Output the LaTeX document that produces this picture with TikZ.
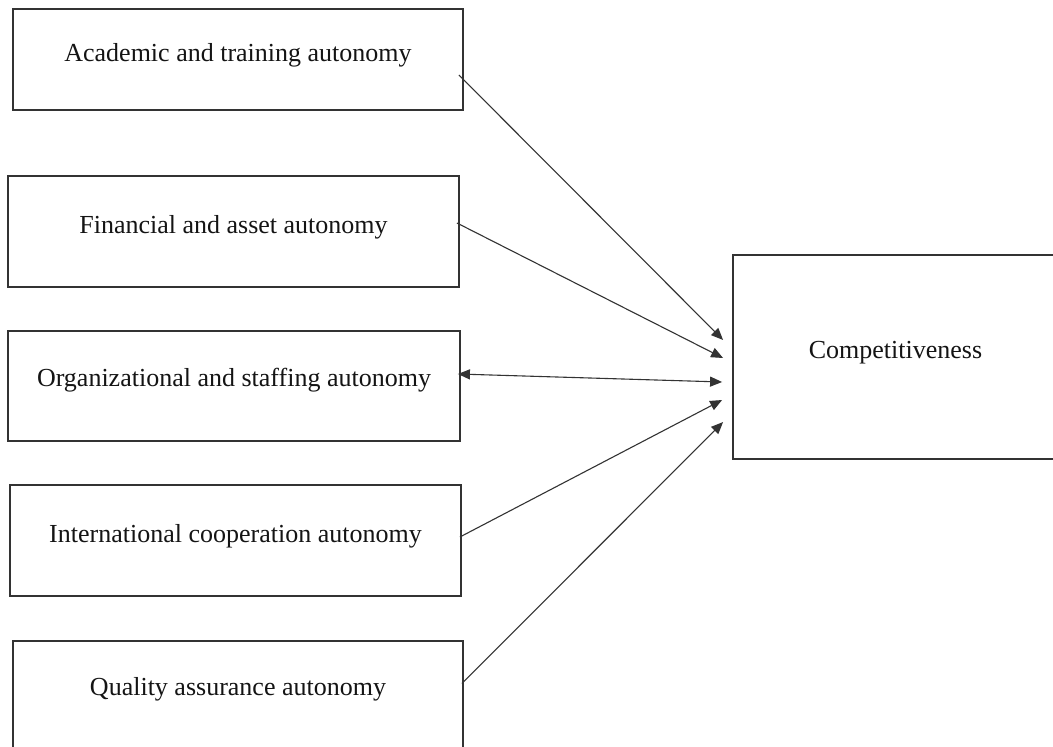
\documentclass[tikz,border=0pt]{standalone}
\usepackage{fontspec}
\setmainfont{Liberation Serif}
\usetikzlibrary{arrows.meta}
\begin{document}
\begin{tikzpicture}[x=1pt,y=-1pt,
  box/.style={draw=black!80, line width=1.8pt, rectangle, inner sep=0pt},
  lbl/.style={font=\fontsize{26}{30}\selectfont, text=black!92, inner sep=0pt},
  arr/.style={draw=black!80, line width=1.1pt, -{Triangle[length=12pt,width=10pt]}},
  barr/.style={draw=black!80, line width=1.1pt, {Triangle[length=12pt,width=10pt]}-{Triangle[length=12pt,width=10pt]}}]
\useasboundingbox (0,0) rectangle (1053,747);
\fill[white] (0,0) rectangle (1053,747);
% boxes
\node[box, minimum width=450pt, minimum height=101pt] (a) at (238,59.5) {};
\node[box, minimum width=451pt, minimum height=111pt] (b) at (233.5,231.5) {};
\node[box, minimum width=452pt, minimum height=110pt] (c) at (234,386) {};
\node[box, minimum width=451pt, minimum height=111pt] (d) at (235.5,540.5) {};
\node[box, minimum width=450pt, minimum height=109pt] (e) at (238,695.5) {};
\node[box, minimum width=325pt, minimum height=204pt] (comp) at (895.5,357) {};
% labels
\node[lbl] (la) at ([yshift=4pt]a.center) {Academic and training autonomy};
\node[lbl] (lb) at ([yshift=4pt]b.center) {Financial and asset autonomy};
\node[lbl] (lc) at ([yshift=6pt]c.center) {Organizational and staffing autonomy};
\node[lbl] (ld) at ([yshift=4pt]d.center) {International cooperation autonomy};
\node[lbl] (le) at ([yshift=6pt]e.center) {Quality assurance autonomy};
\node[lbl] (lcomp) at ([yshift=4pt]comp.center) {Competitiveness};
% arrow targets
\coordinate (t1) at ([xshift=-9pt,yshift=17pt]comp.west);
\coordinate (t2) at ([xshift=-9pt,yshift=-1pt]comp.west);
\coordinate (t3) at ([xshift=-10pt,yshift=-25pt]comp.west);
\coordinate (t4) at ([xshift=-10pt,yshift=-43pt]comp.west);
\coordinate (t5) at ([xshift=-9pt,yshift=-65pt]comp.west);
% arrows
\draw[arr] ([xshift=-5pt,yshift=-15.5pt]a.east) -- (t1);
\draw[arr] ([xshift=-3pt,yshift=8.5pt]b.east) -- (t2);
\draw[barr] ([xshift=-3pt,yshift=12pt]c.east) -- (t3);
\draw[arr] ([xshift=-2pt,yshift=3.5pt]d.east) -- (t4);
\draw[arr] ([xshift=-2pt,yshift=12pt]e.east) -- (t5);
\end{tikzpicture}
\end{document}
